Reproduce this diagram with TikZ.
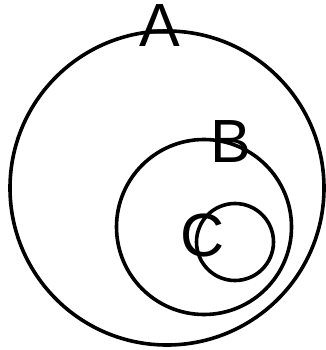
\documentclass[tikz,border=0pt]{standalone}
\usepackage{fontspec}
\setmainfont{Liberation Sans}
\usetikzlibrary{positioning}
\tikzset{
  setring/.style={circle, draw=black, line width=3.6pt, inner sep=0pt},
  setlabel/.style={inner sep=0pt, font=\fontsize{61}{61}\selectfont}
}

\begin{document}
\begin{tikzpicture}[x=1pt, y=-1pt]

% Page frame (matches the reference size)
\useasboundingbox (0,0) rectangle (325,350);

% Nested sets
\node[setring, minimum size=314pt] (ringA) at (167,188) {};
\node[setring, minimum size=175pt] (ringB) at (204,227) {};
\node[setring, minimum size=77pt] (ringC) at (235,242) {};

% Set names
\node[setlabel] (nameA) at (160,26) {A};
\node[setlabel] (nameB) at (231,142) {B};
\node[setlabel] (nameC) at (203,235) {C};

\end{tikzpicture}
\end{document}
